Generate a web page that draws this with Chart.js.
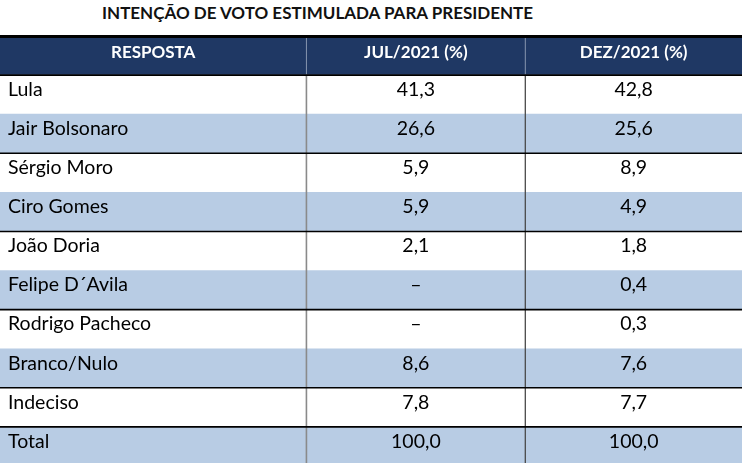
<!DOCTYPE html>
<html>
<head>
<meta charset="utf-8">
<script src="https://cdn.jsdelivr.net/npm/chart.js@4.4.1/dist/chart.umd.min.js"></script>
<style>
  html, body { margin: 0; padding: 0; background: #fff; overflow: hidden; }
  #wrap { position: relative; width: 742px; height: 466px; }
  #title { position: absolute; left: 102px; top: 2px; font: bold 17px Lato, "Open Sans", sans-serif; color: #111; white-space: nowrap; }
  canvas { position: absolute; left: 0; top: 0; }
</style>
</head>
<body>
<div id="wrap">
  <div id="title"></div>
  <canvas id="c" width="742" height="466"></canvas>
</div>
<script>
// ---- data ----
const title = 'INTENÇÃO DE VOTO ESTIMULADA PARA PRESIDENTE';
const headers = ['RESPOSTA', 'JUL/2021 (%)', 'DEZ/2021 (%)'];
const responses = ['Lula', 'Jair Bolsonaro', 'Sérgio Moro', 'Ciro Gomes', 'João Doria', 'Felipe D´Avila', 'Rodrigo Pacheco', 'Branco/Nulo', 'Indeciso', 'Total'];
const jul2021 = [41.3, 26.6, 5.9, 5.9, 2.1, null, null, 8.6, 7.8, 100.0];
const dez2021 = [42.8, 25.6, 8.9, 4.9, 1.8, 0.4, 0.3, 7.6, 7.7, 100.0];

// ---- layout / style ----
const COL_EDGES = [0, 1.40, 2.40, 3.39];   // x-scale units
const X_MAX = 3.39;
const NAVY = '#1f3864';
const BLUE = '#b8cce4';
const WHITE = '#ffffff';
const BODY_FONT = '19.5px Lato, "Open Sans", sans-serif';
const HEAD_FONT = 'bold 17px Lato, "Open Sans", sans-serif';

document.getElementById('title').textContent = title;

const labels = [headers[0]].concat(responses);
const rowColors = labels.map((l, i) => i === 0 ? NAVY : (i % 2 === 0 ? BLUE : WHITE));
const fmt = v => v === null ? '–' : v.toFixed(1).replace('.', ',');

const tablePlugin = {
  id: 'tablePlugin',
  afterDatasetsDraw(chart) {
    const ctx = chart.ctx;
    const xs = chart.scales.x, ys = chart.scales.y;
    const band = ys.getPixelForValue(1) - ys.getPixelForValue(0);
    const left = xs.getPixelForValue(0), right = xs.getPixelForValue(X_MAX);
    const top = ys.getPixelForValue(0) - band / 2;
    const bottom = ys.getPixelForValue(labels.length - 1) + band / 2;
    const rowTop = i => ys.getPixelForValue(i) - band / 2;
    ctx.save();
    // vertical dividers
    [1, 2].forEach((c, k) => {
      const x = xs.getPixelForValue(COL_EDGES[c]);
      ctx.strokeStyle = '#8796b0';
      ctx.lineWidth = 1;
      ctx.beginPath(); ctx.moveTo(x, top); ctx.lineTo(x, rowTop(1)); ctx.stroke();
      ctx.strokeStyle = k === 0 ? '#8a8a8a' : '#4a4a4a';
      ctx.lineWidth = k === 0 ? 1.6 : 1.3;
      ctx.beginPath(); ctx.moveTo(x, rowTop(1)); ctx.lineTo(x, bottom); ctx.stroke();
    });
    // horizontal rules
    ctx.strokeStyle = '#000';
    ctx.lineWidth = 3;
    ctx.beginPath(); ctx.moveTo(left, top + 0.5); ctx.lineTo(right, top + 0.5); ctx.stroke();
    ctx.lineWidth = 1.6;
    for (let i = 1; i < labels.length; i++) {
      const prevBlue = rowColors[i - 1] !== WHITE;
      const isLast = i === labels.length - 1;
      if (prevBlue || isLast) {
        const y = rowTop(i);
        ctx.beginPath(); ctx.moveTo(left, y); ctx.lineTo(right, y); ctx.stroke();
      }
    }
    // header text
    ctx.fillStyle = '#fff';
    ctx.font = HEAD_FONT;
    ctx.textAlign = 'center';
    ctx.textBaseline = 'middle';
    for (let c = 0; c < 3; c++) {
      const cx = xs.getPixelForValue((COL_EDGES[c] + COL_EDGES[c + 1]) / 2);
      ctx.fillText(headers[c], cx, ys.getPixelForValue(0) - 3);
    }
    // body text
    ctx.fillStyle = '#000';
    ctx.font = BODY_FONT;
    const c1 = xs.getPixelForValue((COL_EDGES[1] + COL_EDGES[2]) / 2);
    const c2 = xs.getPixelForValue((COL_EDGES[2] + COL_EDGES[3]) / 2);
    responses.forEach((r, j) => {
      const y = ys.getPixelForValue(j + 1) - 5;
      ctx.textAlign = 'left';
      ctx.fillText(r, left + 8, y);
      ctx.textAlign = 'center';
      ctx.fillText(fmt(jul2021[j]), c1, y);
      ctx.fillText(fmt(dez2021[j]), c2, y);
    });
    ctx.restore();
  }
};

new Chart(document.getElementById('c'), {
  type: 'bar',
  data: {
    labels: labels,
    datasets: [{
      data: labels.map(() => [0, X_MAX]),
      backgroundColor: rowColors,
      borderWidth: 0,
      barPercentage: 1,
      categoryPercentage: 1
    }]
  },
  options: {
    indexAxis: 'y',
    responsive: false,
    animation: false,
    events: [],
    layout: { padding: { top: 36, left: 0, right: 0, bottom: 0 } },
    plugins: { legend: { display: false }, tooltip: { enabled: false }, title: { display: false } },
    scales: {
      x: { type: 'linear', min: 0, max: X_MAX, display: false },
      y: { type: 'category', display: false, grid: { display: false } }
    }
  },
  plugins: [tablePlugin]
});
</script>
</body>
</html>
